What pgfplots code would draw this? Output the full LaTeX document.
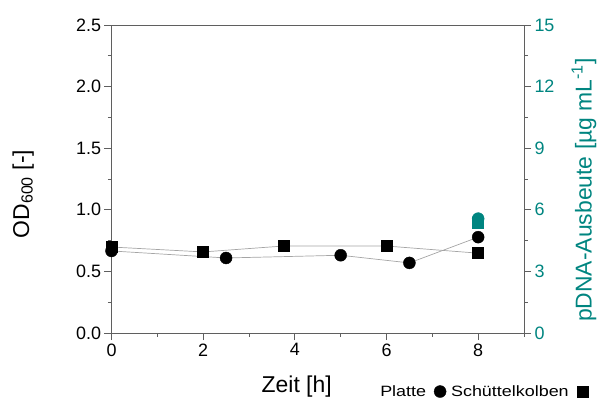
\documentclass[border=0pt]{standalone}
\usepackage{pgfplots}
\pgfplotsset{compat=1.18}
\usepackage{fontspec}
\setmainfont{Liberation Sans}
\newfontfamily\legendfont[FakeStretch=1.2]{Liberation Sans}

\definecolor{axisgray}{RGB}{95,95,95}
\definecolor{linegray}{RGB}{165,165,165}
\definecolor{pdnateal}{RGB}{0,133,128}

% OD600 over time
\pgfplotstableread{
t    od
0    0.666
2.5  0.609
5    0.631
6.5  0.569
8    0.778
}\platte
\pgfplotstableread{
t    od
0    0.698
2    0.658
3.75 0.706
6    0.706
8    0.648
}\kolben
% pDNA yield at the end of cultivation
\pgfplotstableread{
t  y
8  5.57
}\pdnaplatte
\pgfplotstableread{
t  y
8  5.35
}\pdnakolben

\newcommand{\labelfont}{\fontsize{23}{27}\selectfont}

\pgfplotsset{
  common/.style={
    scale only axis, width=412.5bp, height=308bp,
    xmin=0, xmax=9, clip=false,
    /pgf/number format/assume math mode=true,
    tick label style={font=\fontsize{18}{21}\selectfont},
    major tick length=7bp, minor tick length=3.5bp,
    tick align=outside,
    every tick/.style={axisgray, line width=0.8bp},
    axis line style={axisgray, line width=0.9bp},
  },
}

\begin{document}
\begin{tikzpicture}
\begin{axis}[common, name=ax,
  xtick pos=bottom, ytick pos=left,
  xtick={0,2,...,8}, minor xtick={1,3,...,9},
  ymin=0, ymax=2.5,
  ytick={0,0.5,...,2.5}, minor ytick={0.25,0.75,...,2.25},
  yticklabel style={/pgf/number format/.cd, fixed, fixed zerofill, precision=1},
  xlabel={Zeit [h]},
  ylabel={OD\textsubscript{600} [-]},
  every axis x label/.style={at={(axis description cs:0.449,-0.194)}, anchor=base, font=\labelfont},
  every axis y label/.style={at={(axis description cs:-0.2,0.451)}, rotate=90, anchor=base, font=\labelfont},
  legend plot pos=right,
  legend columns=-1,
  legend style={draw=none, fill=none, inner sep=0pt,
    at={(rel axis cs:1.155,-0.19)}, anchor=east,
    font=\legendfont\fontsize{15}{18}\selectfont,
    /tikz/every even column/.style={column sep=3bp},
    /tikz/every odd column/.style={column sep=6bp}},
]
  % connecting lines
  \addplot[linegray, line width=0.7bp, forget plot] table[x=t, y=od] {\kolben};
  \addplot[linegray, line width=0.7bp, forget plot] table[x=t, y=od] {\platte};
  % markers
  \addplot[only marks, mark=square*, mark size=5.5bp, black, forget plot] table[x=t, y=od] {\kolben};
  \addplot[only marks, mark=*, mark size=6bp, black, forget plot] table[x=t, y=od] {\platte};
  \addlegendimage{only marks, mark=*, mark size=6bp, black}
  \addlegendentry{Platte}
  \addlegendimage{only marks, mark=square*, mark size=5.5bp, black}
  \addlegendentry{Schüttelkolben}
\end{axis}
\begin{axis}[common,
  axis x line=none, axis y line*=right, ytick pos=right,
  ymin=0, ymax=15,
  ytick={0,3,...,15}, minor ytick={1.5,4.5,...,13.5},
  yticklabel style={pdnateal},
  ylabel={pDNA-Ausbeute [µg mL\textsuperscript{-1}]},
  every axis y label/.style={at={(axis description cs:1.164,0.464)}, rotate=90, anchor=base, pdnateal, font=\labelfont},
]
  \addplot[only marks, mark=square*, mark size=5.5bp, pdnateal] table[x=t, y=y] {\pdnakolben};
  \addplot[only marks, mark=*, mark size=6bp, pdnateal] table[x=t, y=y] {\pdnaplatte};
\end{axis}
\pgfresetboundingbox
\path[use as bounding box] ([xshift=-111.5bp,yshift=-66bp]ax.south west) rectangle ([xshift=77bp,yshift=25bp]ax.north east);
\end{tikzpicture}
\end{document}
